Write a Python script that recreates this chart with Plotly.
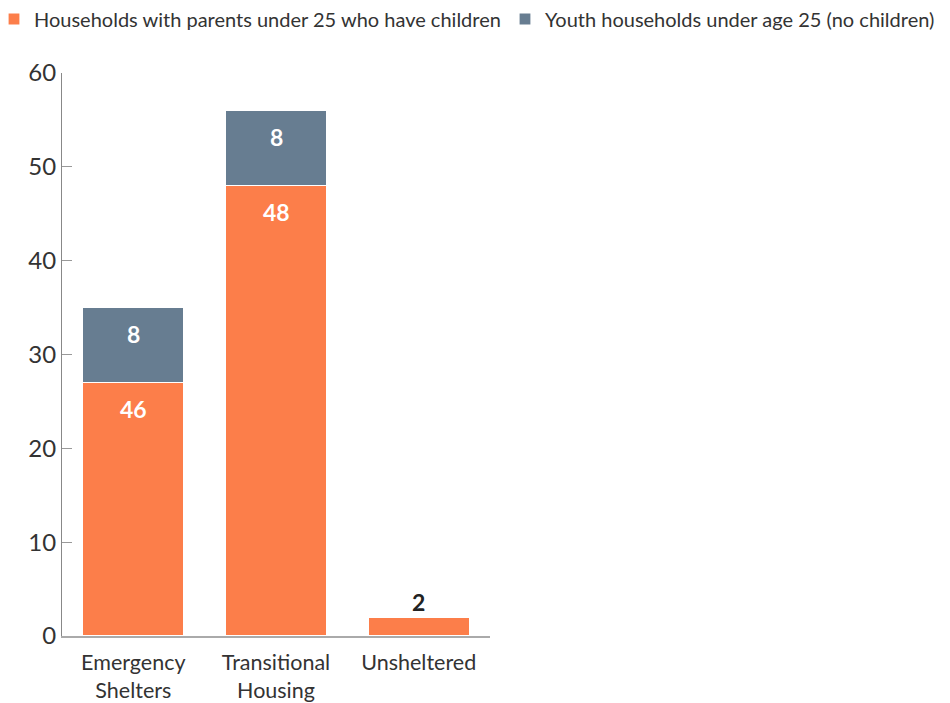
import plotly.graph_objects as go

categories = ["Emergency<br>Shelters", "Transitional<br>Housing", "Unsheltered"]
parents_values = [27, 48, 2]          # drawn bar heights
parents_labels = ["46", "48", "2"]    # labels as printed
youth_values = [8, 8, 0]
youth_labels = ["8", "8", ""]
y_ticks = [0, 10, 20, 30, 40, 50, 60]

ORANGE = "#FC7E4A"
SLATE = "#677D91"
FONT = "Lato, 'Open Sans', sans-serif"

fig = go.Figure()
fig.add_trace(go.Bar(
    x=categories, y=parents_values, name="Households with parents under 25 who have children",
    marker=dict(color=ORANGE, line=dict(color="white", width=1.2)), legend="legend",
))
fig.add_trace(go.Bar(
    x=categories, y=youth_values, name="Youth households under age 25 (no children)",
    marker=dict(color=SLATE, line=dict(color="white", width=1.2)), legend="legend2",
))

annotations = []
for i, cat in enumerate(categories):
    base = 0
    for vals, labs in ((parents_values, parents_labels), (youth_values, youth_labels)):
        v, lab = vals[i], labs[i]
        top = base + v
        if lab:
            if v >= 5:
                annotations.append(dict(x=cat, y=top, text=f"<b>{lab}</b>", showarrow=False,
                                        yshift=-26, font=dict(color="white", size=23, family=FONT)))
            else:
                annotations.append(dict(x=cat, y=top, text=f"<b>{lab}</b>", showarrow=False,
                                        yshift=15, font=dict(color="#222222", size=23, family=FONT)))
        base = top

PLOT_L, PLOT_W = 54, 428
legend_y = 1 + (65 - 11) / 563
legend_font = dict(size=20, color="#333333")

fig.update_layout(
    showlegend=True,
    barmode="stack",
    bargap=0.29,
    width=950, height=703,
    margin=dict(l=PLOT_L, r=950 - PLOT_L - PLOT_W, t=65, b=75, autoexpand=False),
    paper_bgcolor="white", plot_bgcolor="white",
    font=dict(family=FONT, color="#333333"),
    legend=dict(orientation="h", xref="paper", yref="paper",
                x=(-14 - PLOT_L) / PLOT_W, xanchor="left",
                y=legend_y, yanchor="middle",
                font=legend_font, bgcolor="rgba(0,0,0,0)", visible=True),
    legend2=dict(orientation="h", xref="container", yref="paper",
                 x=497 / 950, xanchor="left",
                 y=legend_y, yanchor="middle",
                 font=legend_font, bgcolor="rgba(0,0,0,0)", visible=True),
    annotations=annotations,
)
fig.update_yaxes(range=[0, 60], tickvals=y_ticks, showgrid=False, zeroline=False,
                 showline=True, linecolor="#888888", linewidth=1,
                 ticks="inside", ticklen=10, tickcolor="#999999", automargin=False,
                 tickfont=dict(size=24, color="#333333", family=FONT))
fig.update_xaxes(showline=True, linecolor="#aaaaaa", linewidth=1.5, ticks="", automargin=False,
                 ticklabelstandoff=6,
                 tickfont=dict(size=21.5, color="#333333", family=FONT))

fig.write_html("out.html")
